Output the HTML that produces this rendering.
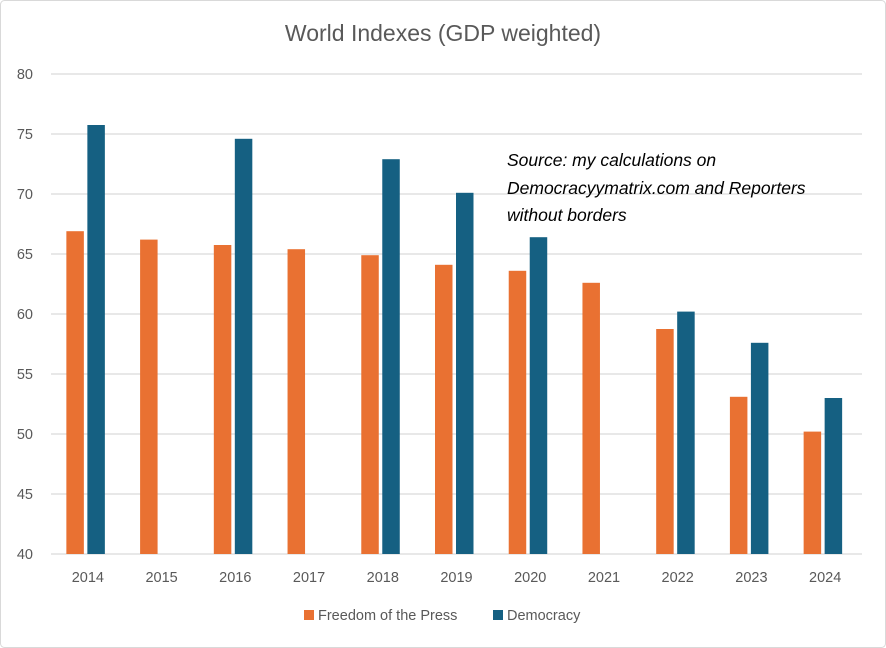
<!DOCTYPE html>
<html><head><meta charset="utf-8"><style>
body{margin:0;background:#fff;}
svg{display:block;font-family:"Liberation Sans",sans-serif;}
</style></head><body>
<svg width="886" height="648" id="c">
<rect x="0.5" y="0.5" width="885" height="647" rx="4" fill="#fff" stroke="#d9d9d9"/>
<text x="443" y="41" text-anchor="middle" font-size="23" fill="#595959">World Indexes (GDP weighted)</text>
<g id="grid"></g><g id="bars"></g><g id="xl"></g>
<text font-size="17.5" font-style="italic" fill="#000">
<tspan x="507" y="166">Source: my calculations on</tspan>
<tspan x="507" y="194">Democracyymatrix.com and Reporters</tspan>
<tspan x="507" y="221">without borders</tspan></text>
<g>
<rect x="304" y="610" width="10" height="10" fill="#E97132"/>
<text x="318" y="620" font-size="14.5" fill="#595959">Freedom of the Press</text>
<rect x="493" y="610" width="10" height="10" fill="#156082"/>
<text x="507" y="620" font-size="14.5" fill="#595959">Democracy</text>
</g>
</svg>
<script>
const categories=["2014","2015","2016","2017","2018","2019","2020","2021","2022","2023","2024"];
const pressValues=[66.9,66.2,65.75,65.4,64.9,64.1,63.6,62.6,58.75,53.1,50.2];
const democracyValues=[75.75,null,74.6,null,72.9,70.1,66.4,null,60.2,57.6,53.0];
const yTicks=[40,45,50,55,60,65,70,75,80];
const NS="http://www.w3.org/2000/svg";
const x0=51,x1=862,yMin=40,yMax=80,py0=554,py1=74;
const y=v=>py0-(v-yMin)/(yMax-yMin)*(py0-py1);
const bw=(x1-x0)/categories.length;
const cx=i=>x0+bw*(i+0.5);
function mk(t,a,p){const e=document.createElementNS(NS,t);for(const k in a)e.setAttribute(k,a[k]);p.appendChild(e);return e;}
const g=document.getElementById('grid');
yTicks.forEach(t=>{
 const l=mk('line',{x1:x0,x2:x1,y1:y(t),y2:y(t),stroke:'#d9d9d9','stroke-width':1.2},g);
 
 
 const tx=mk('text',{x:33,y:y(t)+5,'text-anchor':'end','font-size':14.5,fill:'#595959'},g);
 tx.textContent=t;
 
 
});
const b=document.getElementById('bars'),xl=document.getElementById('xl');
categories.forEach((c,i)=>{
 const p=pressValues[i];
 if(p!=null){const r=mk('rect',{x:cx(i)-21.5,y:y(p),width:17.5,height:py0-y(p),fill:'#E97132'},b);
  
  }
 const d=democracyValues[i];
 if(d!=null){const r=mk('rect',{x:cx(i)-0.5,y:y(d),width:17.5,height:py0-y(d),fill:'#156082'},b);
  
  }
 const t=mk('text',{x:cx(i),y:582,'text-anchor':'middle','font-size':14.5,fill:'#595959'},xl);
 t.textContent=c;
 
 
});
</script>
</body></html>
